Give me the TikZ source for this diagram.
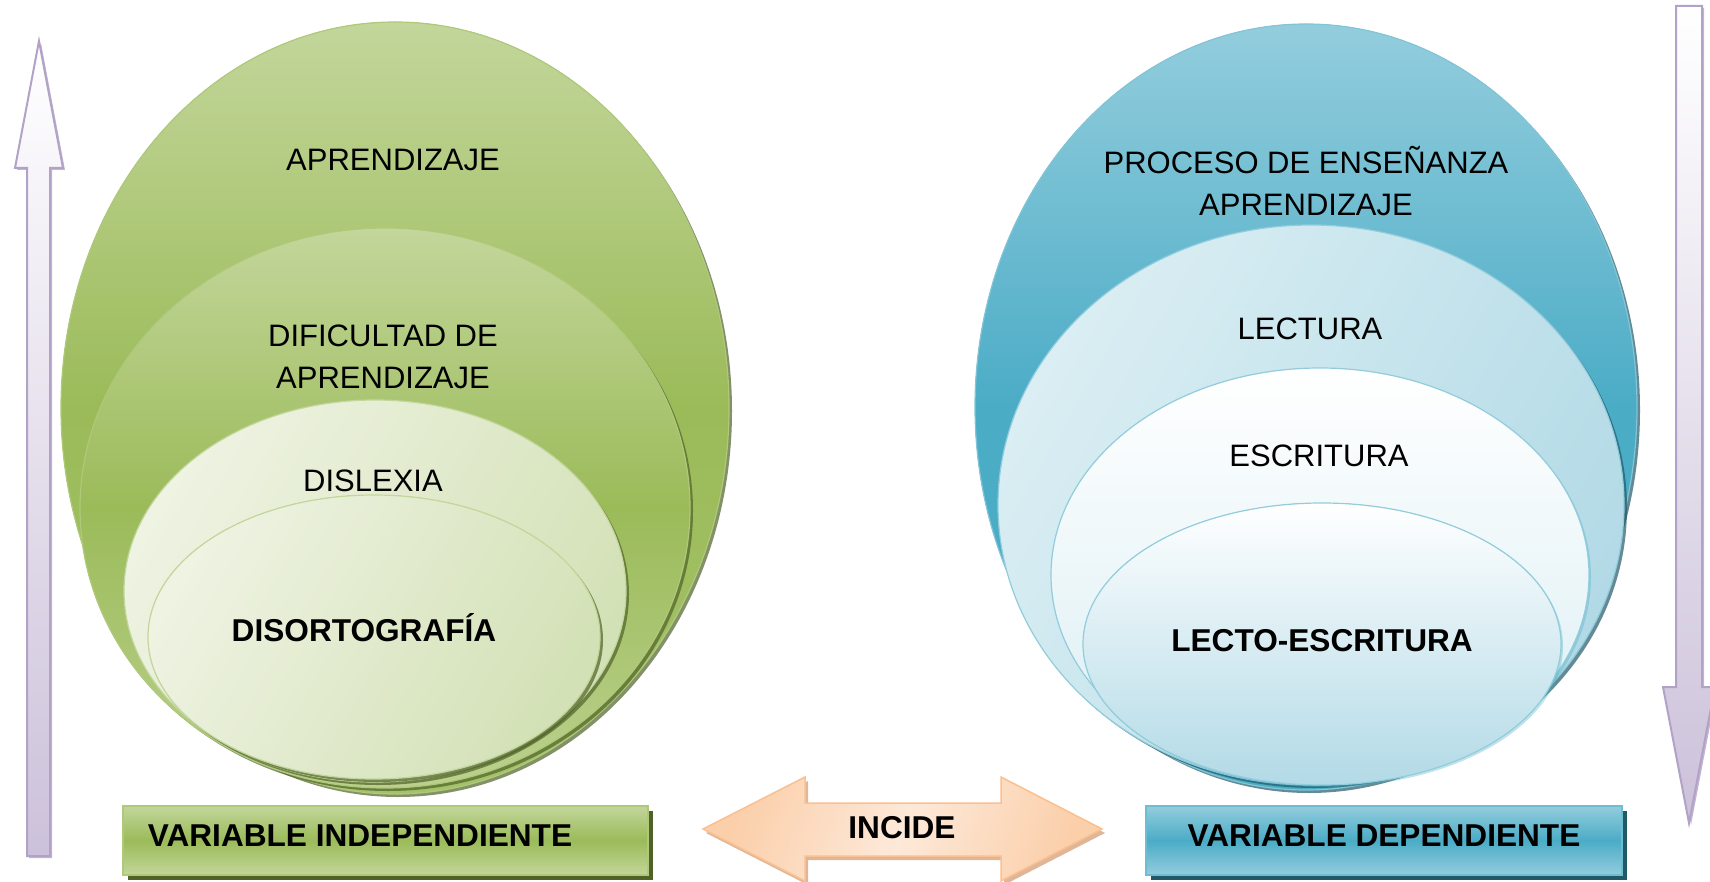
\documentclass[tikz,border=0pt]{standalone}
\usepackage{fontspec}
\setmainfont{Liberation Sans}
\usetikzlibrary{shadows}

\definecolor{greenlight}{HTML}{C3D69B}
\definecolor{greenmid}{HTML}{9BBB59}
\definecolor{greendark}{HTML}{4F6228}
\definecolor{greenpale}{HTML}{EEF3E2}
\definecolor{greensoft}{HTML}{D3E1B6}
\definecolor{bluelight}{HTML}{93CDDD}
\definecolor{bluemid}{HTML}{4BACC6}
\definecolor{bluedark}{HTML}{215968}
\definecolor{bluepale}{HTML}{DAEEF3}
\definecolor{bluesoft}{HTML}{B2DAE6}
\definecolor{lilac}{HTML}{CCC1DA}
\definecolor{lilacedge}{HTML}{B3A2C7}
\definecolor{peach}{HTML}{FBCFAA}
\definecolor{peachpale}{HTML}{FDE9D9}
\definecolor{peachedge}{HTML}{FAC090}
\definecolor{peachdark}{HTML}{D8A47F}

\begin{document}
\begin{tikzpicture}[x=1pt, y=-1pt,
  ringtext/.style={font=\fontsize{31}{41.5}\selectfont, align=center, inner sep=0pt},
  ringbold/.style={ringtext, font=\fontsize{31.6}{41.5}\selectfont\bfseries},
  greenring/.style={draw=greenmid!80, line width=1.2pt,
    drop shadow={shadow xshift=3pt, shadow yshift=-3pt, fill=greendark, opacity=0.7}},
  bluering/.style={draw=bluemid!70, line width=1.2pt,
    drop shadow={shadow xshift=3pt, shadow yshift=-3pt, fill=bluedark, opacity=0.7}},
  paleblue/.style={draw=bluelight, line width=1.2pt,
    drop shadow={shadow xshift=2pt, shadow yshift=-2pt, fill=bluemid, opacity=0.35}},
  lilacarrow/.style={draw=lilacedge, line width=2pt, top color=white, bottom color=lilac,
    drop shadow={shadow xshift=2pt, shadow yshift=-2pt, fill=lilacedge, opacity=0.8}},
  varbox/.style={line width=1.5pt}]

\useasboundingbox (0,0) rectangle (1710,882);

% Aprendizaje rings
\filldraw[greenring, top color=greenlight, bottom color=greenmid!90!white, middle color=greenmid]
  (395,408) ellipse [x radius=334pt, y radius=386pt];
\filldraw[greenring, top color=greenlight, bottom color=greenlight!80!greenmid, middle color=greenmid]
  (385,508) ellipse [x radius=305pt, y radius=280pt];
\filldraw[greenring, draw=greenlight, left color=greenpale, right color=greensoft, shading angle=60]
  (375,591) ellipse [x radius=251pt, y radius=191pt];
\filldraw[greenring, draw=greenlight, left color=greenpale, right color=greensoft, shading angle=60]
  (374,637) ellipse [x radius=226pt, y radius=142pt];

\path
(393,160) node[ringtext] (aprendizaje) {APRENDIZAJE}
(383,357) node[ringtext] (dificultad) {DIFICULTAD DE\\APRENDIZAJE}
(373,481) node[ringtext] (dislexia) {DISLEXIA}
(364,628) node[ringbold] (disortografia) {DISORTOGRAFÍA};

% Ensenanza rings
\filldraw[bluering, top color=bluelight, bottom color=bluemid, middle color=bluemid]
  (1306,407) ellipse [x radius=331pt, y radius=383pt];
\filldraw[bluering, draw=bluelight, left color=bluepale, right color=bluesoft, shading angle=60]
  (1311,505) ellipse [x radius=313pt, y radius=280pt];
\filldraw[paleblue, top color=white, bottom color=bluepale]
  (1320,575) ellipse [x radius=269pt, y radius=207pt];
\filldraw[paleblue, top color=white, bottom color=bluesoft]
  (1322,644) ellipse [x radius=239pt, y radius=141pt];

\path
(1306,181) node[ringtext] (proceso) {PROCESO DE ENSEÑANZA\\APRENDIZAJE}
(1310,329) node[ringtext] (lectura) {LECTURA}
(1319,456) node[ringtext] (escritura) {ESCRITURA}
(1322,641) node[ringbold] (lectoescritura) {LECTO-ESCRITURA};

% Variable boxes
\filldraw[varbox, draw=greenmid!80, top color=greenlight, bottom color=greenlight, middle color=greenmid,
  drop shadow={shadow xshift=5pt, shadow yshift=-5pt, fill=greendark, opacity=1}]
  (123,806) rectangle (648,875);
\filldraw[varbox, draw=bluemid!80, top color=bluelight, bottom color=bluelight, middle color=bluemid,
  drop shadow={shadow xshift=5pt, shadow yshift=-5pt, fill=bluedark, opacity=1}]
  (1146,806) rectangle (1622,875);

\path
(360,836) node[ringbold] (independiente) {VARIABLE INDEPENDIENTE}
(1384,836) node[ringbold] (dependiente) {VARIABLE DEPENDIENTE};

% Incide arrow
\filldraw[draw=peachedge, line width=1.5pt, left color=peach, right color=peach, middle color=peachpale,
  shading angle=70,
  drop shadow={shadow xshift=3pt, shadow yshift=-4pt, fill=peachdark, opacity=0.8}]
  (703,829) -- (805,777) -- (805,803) -- (1001,803) -- (1001,777) -- (1102,829)
  -- (1001,881) -- (1001,856) -- (805,856) -- (805,881) -- cycle;
\path (902,828) node[ringbold] (incide) {INCIDE};

% Up and down arrows
\filldraw[lilacarrow]
  (39,41) -- (63,168) -- (50,168) -- (50,856) -- (27,856) -- (27,168) -- (15,168) -- cycle;
\filldraw[lilacarrow]
  (1676,6) -- (1702,6) -- (1702,687) -- (1715,687) -- (1689,823) -- (1663,687) -- (1676,687) -- cycle;

\end{tikzpicture}
\end{document}
